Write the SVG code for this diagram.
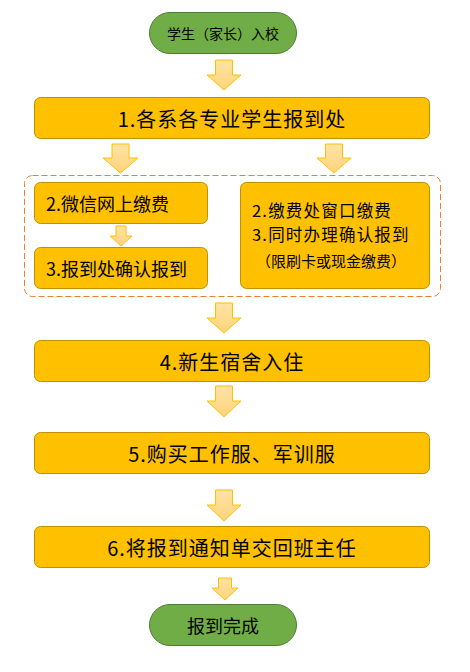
<svg xmlns="http://www.w3.org/2000/svg" width="470" height="672" viewBox="0 0 470 672">
<defs>
<linearGradient id="ag" x1="0" y1="0" x2="0" y2="1">
<stop offset="0" stop-color="#FFE3A3"/>
<stop offset="1" stop-color="#FFD47C"/>
</linearGradient>
<style>
.box{fill:#FFC000;stroke:#BF9000;stroke-width:1}
.pill{fill:#70AD47;stroke:#507E32;stroke-width:1}
.arr{fill:url(#ag);stroke:#FFC000;stroke-width:1}
.t{font-family:"Noto Sans CJK SC","Microsoft YaHei",sans-serif;fill:#000;dominant-baseline:central}
.big{font-size:20px;letter-spacing:1px;text-anchor:middle}
.mid{font-size:18px}
.rt{font-size:16.5px;letter-spacing:1.2px}
</style>
</defs>
<rect width="470" height="672" fill="#fff"/>
<g id="connectors">
<path class="arr" d="M215.5,60 H232.5 V75 H241 L224,90 L207,75 H215.5 Z"/>
<path class="arr" d="M112,144 H129 V158 H138 L120.5,173 L103,158 H112 Z"/>
<path class="arr" d="M325.5,144 H342.5 V158 H351 L334,173 L317,158 H325.5 Z"/>
<path class="arr" d="M116,226 H126 V236 H132 L121,246 L110,236 H116 Z"/>
<path class="arr" d="M215.5,303 H232.5 V318 H241 L224,333 L207,318 H215.5 Z"/>
<path class="arr" d="M215.5,386 H232.5 V401 H241 L224,417 L207,401 H215.5 Z"/>
<path class="arr" d="M215.5,490 H232.5 V505 H241 L224,521 L207,505 H215.5 Z"/>
<path class="arr" d="M218.5,578 H231.5 V588 H238 L225,600 L212,588 H218.5 Z"/>
</g>
<g id="group-pay">
<rect x="24.5" y="175.5" width="416" height="121" rx="8" fill="none" stroke="#ED7D31" stroke-width="1" stroke-dasharray="6 3"/>
</g>
<g id="start">
<rect class="pill" x="149.5" y="12.5" width="147" height="41" rx="20.5"/>
<text class="t" x="223" y="33" font-size="14" text-anchor="middle">学生（家长）入校</text>
</g>
<g id="step1">
<rect class="box" x="34.5" y="97.5" width="395" height="41" rx="6"/>
<text class="t big" x="232" y="118">1.各系各专业学生报到处</text>
</g>
<g id="step2a">
<rect class="box" x="34.5" y="182.5" width="173" height="41" rx="6"/>
<text class="t mid" x="46" y="203">2.微信网上缴费</text>
</g>
<g id="step3a">
<rect class="box" x="34.5" y="247.5" width="173" height="41" rx="6"/>
<text class="t mid" x="46" y="268">3.报到处确认报到</text>
</g>
<g id="step2b">
<rect class="box" x="240.5" y="182.5" width="189" height="106" rx="6"/>
<text class="t rt" x="252" y="209.5">2.缴费处窗口缴费</text>
<text class="t rt" x="252" y="233.5">3.同时办理确认报到</text>
<text class="t" x="331" y="260" font-size="15" text-anchor="middle">（限刷卡或现金缴费）</text>
</g>
<g id="step4">
<rect class="box" x="34.5" y="340.5" width="395" height="41" rx="6"/>
<text class="t big" x="232" y="361">4.新生宿舍入住</text>
</g>
<g id="step5">
<rect class="box" x="34.5" y="432.5" width="395" height="41" rx="6"/>
<text class="t big" x="232" y="453">5.购买工作服、军训服</text>
</g>
<g id="step6">
<rect class="box" x="34.5" y="526.5" width="395" height="41" rx="6"/>
<text class="t big" x="232" y="547">6.将报到通知单交回班主任</text>
</g>
<g id="end">
<rect class="pill" x="149.5" y="604.5" width="147" height="41" rx="20.5"/>
<text class="t" x="223" y="625" font-size="18" text-anchor="middle">报到完成</text>
</g>
</svg>
